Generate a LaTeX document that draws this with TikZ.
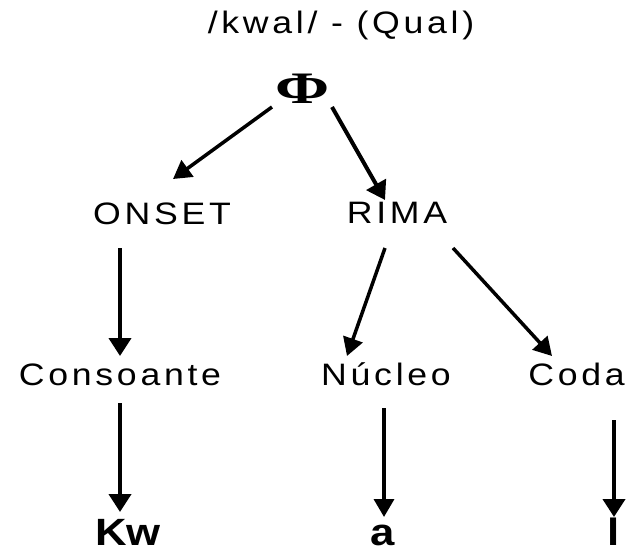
\documentclass[tikz,border=0pt]{standalone}
\usepackage{fontspec}
\setmainfont{Liberation Sans}[FakeStretch=1.15,LetterSpace=12]
\newfontfamily\leaffont{Liberation Sans}[FakeStretch=1.15]
\newfontfamily\phifont{Liberation Serif}[FakeStretch=1.45]
\usetikzlibrary{arrows.meta,calc}
\begin{document}
\begin{tikzpicture}[x=1pt,y=-1pt,
  lbl/.style={anchor=base,inner sep=0pt,outer sep=0pt,font=\fontsize{31}{36}\selectfont},
  leaf/.style={anchor=base,inner sep=0pt,outer sep=0pt,text depth=0pt,font=\leaffont\bfseries\fontsize{38}{42}\selectfont},
  arr/.style={line width=4pt,-{Triangle[length=18pt,width=22pt]}},
  arrthin/.style={line width=3.5pt,-{Triangle[length=18pt,width=20pt]}}]
\useasboundingbox (0,0) rectangle (630,552);
\fill[white] (0,0) rectangle (630,552);
\node[lbl] (title) at (341,33) {/kwal/ - (Qual)};
\node[anchor=base,inner sep=0pt,font=\phifont\bfseries\fontsize{45}{50}\selectfont] (phi) at (303,103) {Φ};
\node[lbl] (onset) at (162,224) {ONSET};
\node[lbl] (rima) at (397,223) {RIMA};
\node[lbl] (cons) at (120,385) {Consoante};
\node[lbl] (nuc) at (386,385) {Núcleo};
\node[lbl] (coda) at (576.5,385) {Coda};
\node[leaf] (kw) at (128,545) {Kw};
\node[leaf] (a) at (383,545) {a};
\node[leaf] (l) at (614,545) {l};
\draw[arrthin] ($(phi.base)+(-31,4)$) -- ($(onset.base)+(11,-45)$);
\draw[arr] ($(phi.base)+(29,4)$) -- ($(rima.base)+(-12,-23)$);
\draw[arr] ($(onset.base)+(-42,24)$) -- ($(cons.base)+(0,-29)$);
\draw[arrthin] ($(rima.base)+(-12,25)$) -- ($(nuc.base)+(-39,-29)$);
\draw[arrthin] ($(rima.base)+(56,25)$) -- ($(coda.base)+(-24.5,-29)$);
\draw[arr] ($(cons.base)+(0,18)$) -- ($(kw.base)+(-8,-33)$);
\draw[arrthin] ($(nuc.base)+(-2,23)$) -- ($(a.base)+(1,-28)$);
\draw[arr] ($(coda.base)+(37.5,35)$) -- ($(l.base)+(0,-28)$);
\end{tikzpicture}
\end{document}
